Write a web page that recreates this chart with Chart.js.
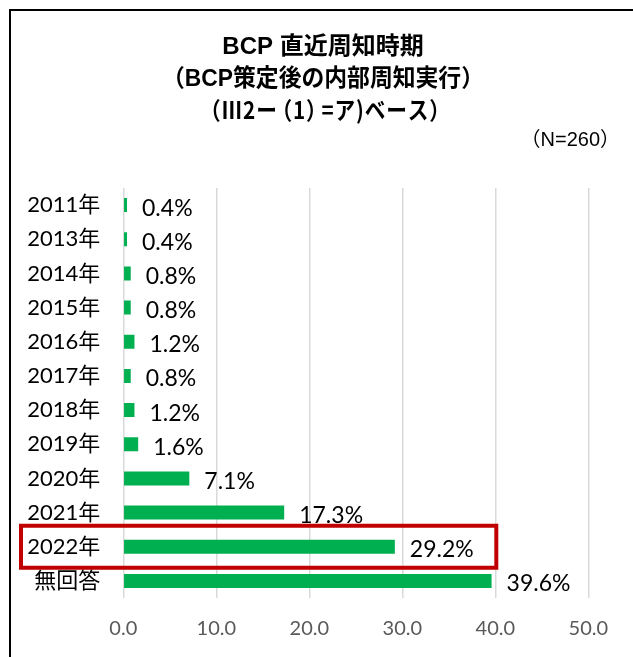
<!DOCTYPE html>
<html>
<head>
<meta charset="utf-8">
<script src="https://cdn.jsdelivr.net/npm/chart.js@4"></script>
<style>
  html, body { margin: 0; padding: 0; background: #ffffff; }
  #wrap { width: 633px; height: 657px; position: relative; }
</style>
</head>
<body>
<div id="wrap"><canvas id="c" width="633" height="657"></canvas></div>
<script>
const titleLines = ['BCP 直近周知時期', '（BCP策定後の内部周知実行）', '（Ⅲ2ー（1）=ア)ベース）'];
const sampleNote = '（N=260）';
const categories = ['2011年','2013年','2014年','2015年','2016年','2017年','2018年','2019年','2020年','2021年','2022年','無回答'];
const values = [0.4, 0.4, 0.8, 0.8, 1.2, 0.8, 1.2, 1.6, 7.1, 17.3, 29.2, 39.6];
const highlightCategory = '2022年';
const xMin = 0, xMax = 50, xStep = 10;

const LAT = "Lato, 'Noto Sans CJK JP', sans-serif";
const TITLEFONT = "'Liberation Sans', 'Noto Sans CJK JP', sans-serif";
const CJKFONT = "'Noto Sans CJK JP', sans-serif";

const framePlugin = {
  id: 'frame',
  beforeDraw(chart) {
    const ctx = chart.ctx;
    ctx.save();
    ctx.fillStyle = '#ffffff';
    ctx.fillRect(0, 0, chart.width, chart.height);
    ctx.strokeStyle = '#000000';
    ctx.lineWidth = 2;
    ctx.strokeRect(10, 10, chart.width + 50, chart.height + 50);
    ctx.restore();
  }
};

// draw a line char by char, tightening inner full-width brackets, fitted to a width
function drawTight(ctx, text, cx, y, fitWidth, extra) {
  const chars = Array.from(text);
  const items = chars.map((ch, i) => {
    const w = ctx.measureText(ch).width;
    const inner = i > 0 && i < chars.length - 1;
    if (inner && ch === '（') return { ch, dx: -w * 0.3, adv: w * 0.7 + extra };
    if (inner && ch === '）') return { ch, dx: 0, adv: w * 0.7 + extra };
    return { ch, dx: 0, adv: w + extra };
  });
  const total = items.reduce((s, it) => s + it.adv, 0) - extra;
  const k = Math.min(1, fitWidth / total);
  ctx.save();
  ctx.translate(cx - total * k / 2, y);
  ctx.scale(k, 1);
  ctx.textAlign = 'left';
  let x = 0;
  items.forEach(it => { ctx.fillText(it.ch, x + it.dx, 0); x += it.adv; });
  ctx.restore();
}

const titlePlugin = {
  id: 'manualTitle',
  afterDraw(chart) {
    const ctx = chart.ctx;
    ctx.save();
    ctx.fillStyle = '#000000';
    ctx.textAlign = 'center';
    ctx.textBaseline = 'middle';
    const cx = 323;
    ctx.font = 'bold 24px ' + TITLEFONT;
    ctx.fillText(titleLines[0], cx, 47);
    ctx.fillText(titleLines[1], cx, 79, 322);
    ctx.font = 'bold 24px ' + CJKFONT;
    drawTight(ctx, titleLines[2], cx + 2, 110, 250, 1);
    ctx.font = '20px ' + TITLEFONT;
    ctx.textAlign = 'right';
    ctx.fillText(sampleNote, 620, 140);
    ctx.restore();
  }
};

const valueLabelPlugin = {
  id: 'valueLabels',
  afterDatasetsDraw(chart) {
    const ctx = chart.ctx;
    const meta = chart.getDatasetMeta(0);
    ctx.save();
    ctx.font = '23px ' + LAT;
    ctx.fillStyle = '#000000';
    ctx.textAlign = 'left';
    ctx.textBaseline = 'middle';
    meta.data.forEach((bar, i) => {
      ctx.fillText(values[i].toFixed(1) + '%', bar.x + 15, bar.y + 3);
    });
    ctx.restore();
  }
};

const highlightPlugin = {
  id: 'highlight',
  afterDraw(chart) {
    const ys = chart.scales.y;
    const xs = chart.scales.x;
    const idx = categories.indexOf(highlightCategory);
    const cy = ys.getPixelForValue(idx);
    const ctx = chart.ctx;
    ctx.save();
    ctx.strokeStyle = '#c00000';
    ctx.lineWidth = 4;
    ctx.strokeRect(21, cy - 21, xs.getPixelForValue(40) + 1 - 21, 42);
    ctx.restore();
  }
};

new Chart(document.getElementById('c'), {
  type: 'bar',
  data: {
    labels: categories,
    datasets: [{
      data: values,
      backgroundColor: '#00b050',
      borderWidth: 0,
      barPercentage: 0.41,
      categoryPercentage: 1.0
    }]
  },
  options: {
    indexAxis: 'y',
    responsive: false,
    animation: false,
    devicePixelRatio: 1,
    layout: { padding: { left: 15, right: 44.7, top: 188, bottom: 16 } },
    plugins: {
      legend: { display: false },
      tooltip: { enabled: false },
      title: { display: false },
      subtitle: { display: false }
    },
    scales: {
      x: {
        min: xMin, max: xMax,
        ticks: {
          stepSize: xStep,
          color: '#595959',
          font: { family: LAT, size: 20 },
          padding: 19,
          callback: v => Number(v).toFixed(1)
        },
        grid: { color: '#d9d9d9', lineWidth: 1.5, drawTicks: false },
        border: { display: false },
        afterFit(scale) {
          scale.height = 43;
          scale.paddingLeft = 0; scale.paddingRight = 0;
          scale.paddingTop = 0; scale.paddingBottom = 0;
        }
      },
      y: {
        ticks: {
          color: '#000000',
          font: { family: LAT, size: 22 },
          padding: 23
        },
        grid: { display: false, drawTicks: false },
        border: { display: false },
        afterFit(scale) {
          scale.width = 108.3;
          scale.paddingLeft = 0; scale.paddingRight = 0;
          scale.paddingTop = 0; scale.paddingBottom = 0;
        }
      }
    }
  },
  plugins: [framePlugin, valueLabelPlugin, highlightPlugin, titlePlugin]
});
</script>
</body>
</html>
